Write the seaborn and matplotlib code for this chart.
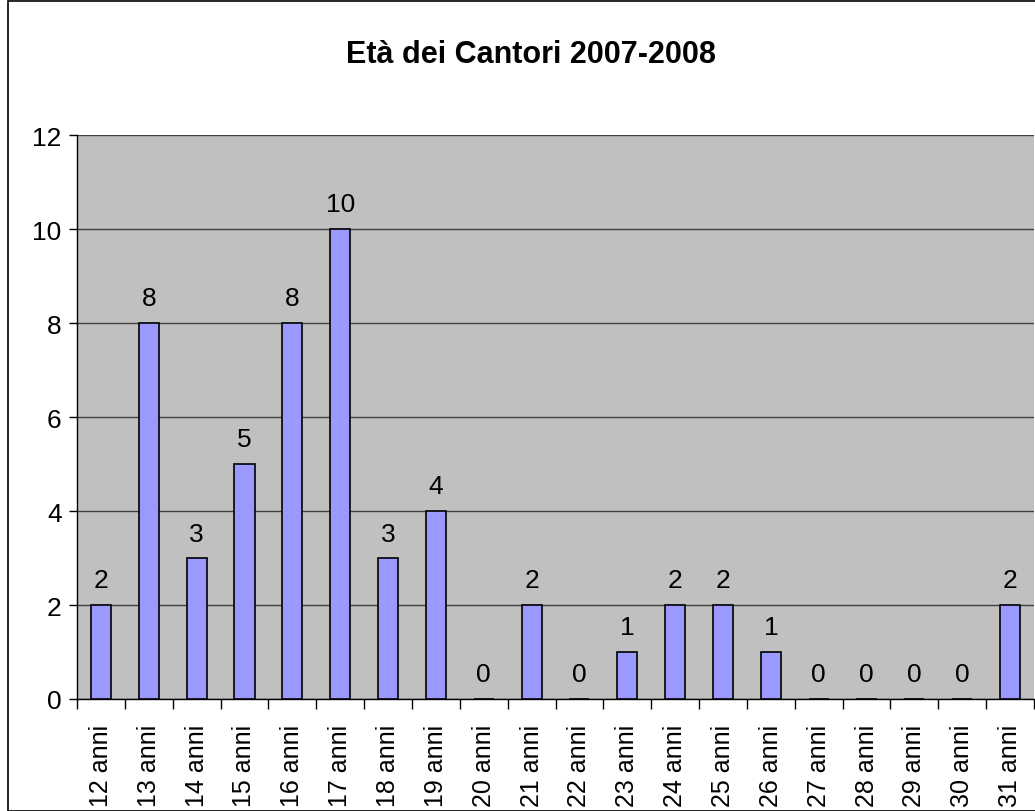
import matplotlib
matplotlib.use("Agg")
import matplotlib.pyplot as plt
from matplotlib.patches import Rectangle
from matplotlib.ticker import FixedLocator, NullFormatter
import seaborn as sns
import pandas as pd

ages = ["12 anni", "13 anni", "14 anni", "15 anni", "16 anni", "17 anni", "18 anni",
        "19 anni", "20 anni", "21 anni", "22 anni", "23 anni", "24 anni", "25 anni",
        "26 anni", "27 anni", "28 anni", "29 anni", "30 anni", "31 anni"]
counts = [2, 8, 3, 5, 8, 10, 3, 4, 0, 2, 0, 1, 2, 2, 1, 0, 0, 0, 0, 2]
title = "Età dei Cantori 2007-2008"

sns.set_style("white")
plt.rcParams["font.family"] = ["Liberation Sans", "DejaVu Sans"]
plt.rcParams["text.color"] = "black"
plt.rcParams["xtick.color"] = "black"
plt.rcParams["ytick.color"] = "black"

W, H = 1035, 812
fig = plt.figure(figsize=(W / 100, H / 100), dpi=100)
fig.patch.set_facecolor("white")
# outer chart frame
fig.patches.append(Rectangle((8 / W, 0.0), 1.5, 1 - 1.5 / H, transform=fig.transFigure,
                             fill=False, edgecolor="black", linewidth=1.2))

ax = fig.add_axes([77 / W, (H - 700) / H, (1034 - 77) / W, (700 - 136) / H])
ax.set_facecolor("#C0C0C0")

df = pd.DataFrame({"age": ages, "count": counts})
sns.barplot(data=df, x="age", y="count", ax=ax, color="#9999FF", saturation=1,
            width=0.42, edgecolor="black", linewidth=1.2, zorder=3)

ax.set_ylim(0, 12)
ax.set_xlim(-0.5, len(ages) - 0.5)
ax.set_yticks(range(0, 13, 2))
ax.yaxis.grid(True, color="#404040", linewidth=1.0, zorder=1)
ax.set_axisbelow(True)
ax.set_xlabel("")
ax.set_ylabel("")
fig.text(531 / W, 1 - 55 / H, title, fontsize=22, fontweight="bold", color="black",
         ha="center", va="center")

for side in ["top", "right"]:
    ax.spines[side].set_visible(False)
for side in ["left", "bottom"]:
    ax.spines[side].set_color("black")
    ax.spines[side].set_linewidth(1.0)

ax.tick_params(axis="y", direction="out", length=6, width=1, colors="black",
               labelsize=19, left=True, pad=5)
ax.tick_params(axis="x", which="major", length=0, labelsize=18, labelrotation=90, pad=18)
ax.xaxis.set_minor_locator(FixedLocator([i - 0.5 for i in range(len(ages) + 1)]))
ax.xaxis.set_minor_formatter(NullFormatter())
ax.tick_params(axis="x", which="minor", direction="out", length=7, width=1,
               colors="black", bottom=True)

for cont in ax.containers:
    ax.bar_label(cont, labels=[str(v) for v in counts], padding=9, fontsize=19,
                 color="black")

fig.savefig("out.png", dpi=100)
